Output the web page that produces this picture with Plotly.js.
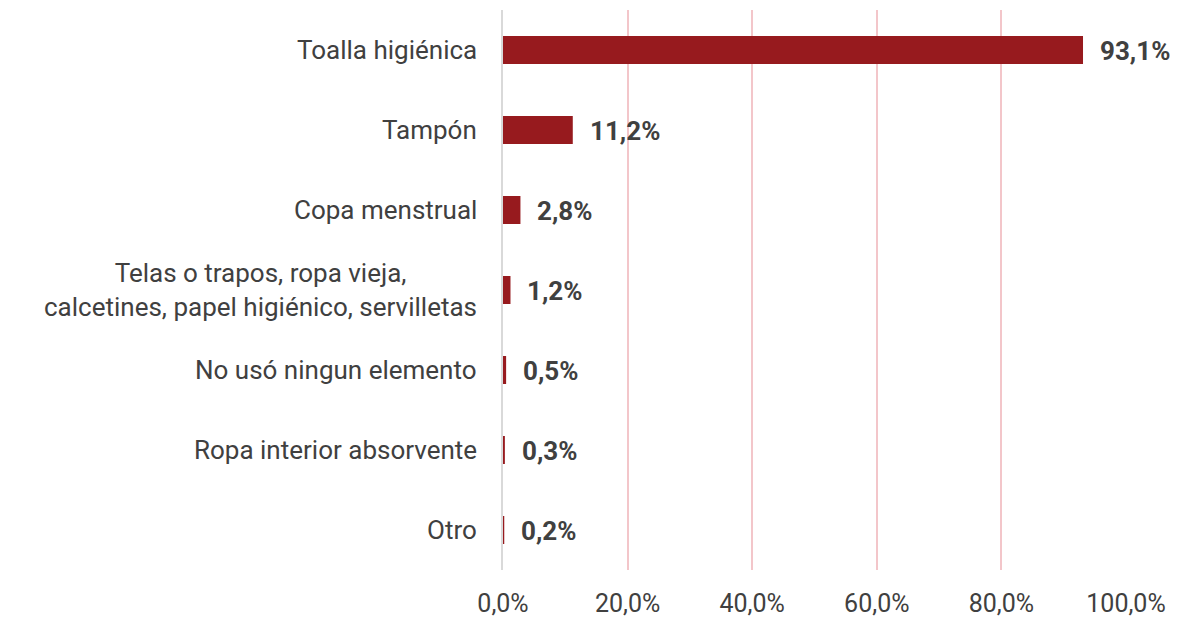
<!DOCTYPE html>
<html><head><meta charset="utf-8">
<script src="https://cdn.plot.ly/plotly-3.0.1.min.js"></script>
<style>html,body{margin:0;padding:0;background:#fff}#c{width:1194px;height:618px}</style>
</head><body><div id="c"></div>
<script>
const categories = [
  "Toalla higiénica",
  "Tampón",
  "Copa menstrual",
  "Telas o trapos, ropa vieja,<br>calcetines, papel higiénico, servilletas",
  "No usó ningun elemento",
  "Ropa interior absorvente",
  "Otro"
];
const values = [93.1, 11.2, 2.8, 1.2, 0.5, 0.3, 0.2];
const tickVals = [0, 20, 40, 60, 80, 100];
const tickText = ["0,0%", "20,0%", "40,0%", "60,0%", "80,0%", "100,0%"];

const valueLabels = values.map((v, i) => ({
  x: v, y: categories[i], xref: 'x', yref: 'y',
  text: '<b>' + v.toFixed(1).replace('.', ',') + '%</b>',
  showarrow: false, xanchor: 'left', xshift: 15, yshift: -1,
  font: {family: 'Roboto, sans-serif', size: 26, color: '#404040'}
}));
const catLabels = categories.map((c) => ({
  x: 0, y: c, xref: 'paper', yref: 'y', text: c, showarrow: false,
  xanchor: 'right', align: 'center', xshift: -24,
  font: {family: 'Roboto, sans-serif', size: 26, color: '#404040'}
}));

Plotly.newPlot('c', [{
  type: 'bar', orientation: 'h', x: values, y: categories,
  marker: {color: '#971A1E'}, width: 0.35, hoverinfo: 'none'
}], {
  width: 1194, height: 618,
  margin: {l: 503, r: 68, t: 10, b: 48},
  paper_bgcolor: '#fff', plot_bgcolor: '#fff',
  showlegend: false,
  xaxis: {
    range: [0, 100], tickvals: tickVals, ticktext: tickText,
    showgrid: true, gridcolor: '#F3C6CA', gridwidth: 2,
    zeroline: false, showline: false, ticks: '',
    ticklabelstandoff: 16,
    tickfont: {family: 'Roboto, sans-serif', size: 25, color: '#404040'}
  },
  yaxis: {
    autorange: 'reversed', showticklabels: false, showgrid: false,
    showline: true, linecolor: '#D9D9D9', linewidth: 2, ticks: '',
    zeroline: false
  },
  annotations: valueLabels.concat(catLabels)
}, {displayModeBar: false, staticPlot: true});
</script></body></html>
